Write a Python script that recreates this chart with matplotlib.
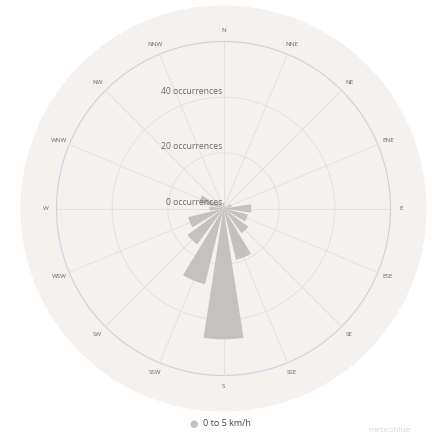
import numpy as np
import matplotlib
matplotlib.use("Agg")
import matplotlib.pyplot as plt

# =========================
# Data
# =========================
directions = ["N", "NNE", "NE", "ENE", "E", "ESE", "SE", "SSE",
              "S", "SSW", "SW", "WSW", "W", "WNW", "NW", "NNW"]
occurrences = [2, 1, 1, 3, 10, 9, 11, 19, 47, 28, 16, 13, 5, 9, 3, 1]
radial_ticks = [0, 20, 40]
radial_max = 60
legend_label = "0 to 5 km/h"

# =========================
# Style
# =========================
DISC = "#f4f1ee"
BAR = "#c6c1c1"
GRID = "#e6e1dd"
OUTER = "#c9d4e0"
LABEL = "#6a6a6a"
plt.rcParams["font.family"] = ["Open Sans", "DejaVu Sans"]

W, H = 434, 437
fig = plt.figure(figsize=(W / 100, H / 100), dpi=100)
fig.patch.set_facecolor("white")

# disc centre and radius in pixels
cx, cy, rdisc = 223.5, 208.5, 203
rplot = 167
ax = fig.add_axes([(cx - rdisc) / W, (H - cy - rdisc) / H,
                   2 * rdisc / W, 2 * rdisc / H], projection="polar")
ax.set_theta_zero_location("N")
ax.set_theta_direction(-1)
rmax = radial_max * rdisc / rplot
ax.set_ylim(0, rmax)
ax.set_facecolor(DISC)
ax.spines["polar"].set_visible(False)
ax.grid(False)
ax.set_xticks([])
ax.set_yticks([])

# =========================
# Grid
# =========================
t = np.linspace(0, 2 * np.pi, 400)
for r in radial_ticks[1:]:
    ax.plot(t, np.full_like(t, r), color=GRID, lw=0.7, zorder=1)
ax.plot(t, np.full_like(t, radial_max), color=OUTER, lw=0.8, zorder=1)

angles = np.deg2rad(np.arange(len(directions)) * 360 / len(directions))
for a in angles:
    ax.plot([a, a], [0, radial_max], color=GRID, lw=0.7, zorder=1)

# =========================
# Bars
# =========================
sector = 2 * np.pi / len(directions)
ax.bar(angles, occurrences, width=sector * 0.78, color=BAR,
       edgecolor="none", zorder=2)

# =========================
# Labels
# =========================
for a, name in zip(angles, directions):
    ax.text(a, radial_max * 178 / rplot, name, ha="center", va="center",
            fontsize=4.5, color=LABEL)

for r in radial_ticks:
    ax.annotate(f"{r} occurrences", xy=(0, r), xytext=(-1, 1),
                textcoords="offset points", ha="right", va="bottom",
                fontsize=6.2, color=LABEL, zorder=3)

# legend
fig.text(194 / W, 1 - 424 / H, "\u25cf", color="#c6c1c1", fontsize=7,
         ha="center", va="center", family="DejaVu Sans")
fig.text(203 / W, 1 - 424 / H, legend_label, color="#444444", fontsize=6.5,
         ha="left", va="center")
fig.text(368 / W, 1 - 431 / H, "meteoblue", color="#d8d8d8", fontsize=6,
         ha="left", va="center")

fig.savefig("out.png", dpi=100)
